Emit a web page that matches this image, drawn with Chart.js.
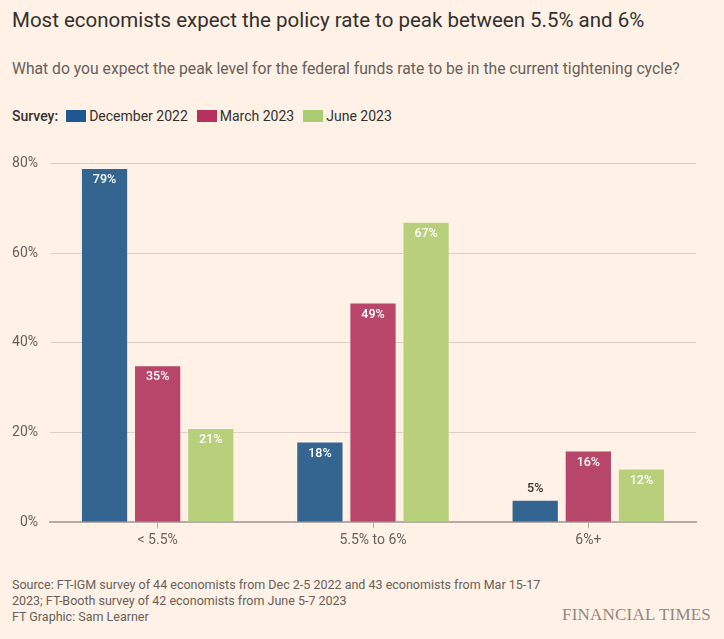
<!DOCTYPE html>
<html>
<head>
<meta charset="utf-8">
<script src="https://cdn.jsdelivr.net/npm/chart.js@4"></script>
<style>
  body { margin: 0; background: #fff1e5; font-family: Roboto, sans-serif; color: #33302e; }
  #page { position: relative; width: 724px; height: 639px; overflow: hidden; }
  #title { position: absolute; left: 12px; top: 8px; font-size: 20.5px; color: #33302e; }
  #subtitle { position: absolute; left: 12px; top: 59px; font-size: 15.7px; color: #66605c; }
  #legend { position: absolute; left: 12px; top: 108px; font-size: 14px; color: #33302e; display: flex; align-items: center; }
  #legend b { font-weight: 500; margin-right: 8px; }
  .sw { display: inline-block; width: 20px; height: 12px; margin-right: 3px; }
  .item { display: flex; align-items: center; margin-right: 9px; }
  #chartBox { position: absolute; left: 0; top: 143px; width: 724px; height: 410px; }
  #footer { position: absolute; left: 12px; top: 577px; font-size: 12.5px; line-height: 16px; color: #66605c; }
  #brand { position: absolute; right: 13px; top: 605px; font-family: "Liberation Serif", serif; font-size: 17px; color: #8f8882; letter-spacing: 0.2px; }
</style>
</head>
<body>
<div id="page">
  <div id="title">Most economists expect the policy rate to peak between 5.5% and 6%</div>
  <div id="subtitle">What do you expect the peak level for the federal funds rate to be in the current tightening cycle?</div>
  <div id="legend"><b>Survey:</b></div>
  <div id="chartBox"><canvas id="chartCanvas"></canvas></div>
  <div id="footer">Source: FT-IGM survey of 44 economists from Dec 2-5 2022 and 43 economists from Mar 15-17<br>2023; FT-Booth survey of 42 economists from June 5-7 2023<br>FT Graphic: Sam Learner</div>
  <div id="brand">FINANCIAL TIMES</div>
</div>
<script>
// categories and survey values (share of economists, %)
let categories = ['< 5.5%', '5.5% to 6%', '6%+'];
let seriesNames = ['December 2022', 'March 2023', 'June 2023'];
let dec2022 = [79, 18, 5];
let mar2023 = [35, 49, 16];
let jun2023 = [21, 67, 12];
let yTicks = [0, 20, 40, 60, 80];

let barColors = ['#346591', '#b8456a', '#b8d07c'];
let swatchColors = ['#1f5890', '#b5305f', '#aacd71'];

// html legend
let legendDiv = document.getElementById('legend');
for (let i = 0; i < seriesNames.length; i++)
{
  legendDiv.innerHTML += `<span class="item"><span class="sw" style="background:${swatchColors[i]}"></span>${seriesNames[i]}</span>`;
}

// value labels drawn on the bars
const barLabels = {
  id: 'barLabels',
  afterDatasetsDraw(chart)
  {
    let ctx = chart.ctx;
    ctx.save();
    ctx.font = '500 12.5px Roboto';
    ctx.textAlign = 'center';
    ctx.textBaseline = 'middle';
    chart.data.datasets.forEach((ds, i) => {
      let meta = chart.getDatasetMeta(i);
      meta.data.forEach((bar, j) => {
        let v = ds.data[j];
        if (v >= 10)
        {
          ctx.fillStyle = '#ffffff';
          ctx.fillText(v + '%', bar.x, bar.y + 12);
        }
        else
        {
          ctx.fillStyle = '#33302e';
          ctx.fillText(v + '%', bar.x, bar.y - 11);
        }
      });
    });
    ctx.restore();
  }
};

let seriesData = [dec2022, mar2023, jun2023];
let datasets = [];
for (let i = 0; i < seriesData.length; i++)
{
  datasets.push({
    label: seriesNames[i],
    data: seriesData[i],
    backgroundColor: barColors[i],
    borderColor: 'rgba(255,255,255,0.25)',
    borderWidth: 1,
    barPercentage: 0.89,
    categoryPercentage: 0.74
  });
}

new Chart(document.getElementById('chartCanvas'), {
  type: 'bar',
  data: { labels: categories, datasets: datasets },
  plugins: [barLabels],
  options: {
    responsive: true,
    maintainAspectRatio: false,
    animation: false,
    layout: { padding: { top: 12, right: 28, left: 0, bottom: 0 } },
    plugins: { legend: { display: false }, tooltip: { enabled: false } },
    scales: {
      x: {
        grid: { display: true, drawOnChartArea: false, drawTicks: true, tickLength: 6, offset: false, color: '#b3aba4', lineWidth: 1 },
        border: { display: true, color: '#b3aba4', width: 2 },
        ticks: { color: '#66605c', font: { family: 'Roboto', size: 14 }, padding: 4 }
      },
      y: {
        min: 0,
        max: 80,
        afterBuildTicks(scale) { scale.ticks = yTicks.map(v => ({ value: v })); },
        afterFit(scale) { scale.width = 50; },
        grid: { color: '#dbcfc5', drawTicks: false, lineWidth: 1 },
        border: { display: false },
        ticks: { color: '#66605c', font: { family: 'Roboto', size: 14 }, padding: 12, callback: v => v + '%' }
      }
    }
  }
});
</script>
</body>
</html>
